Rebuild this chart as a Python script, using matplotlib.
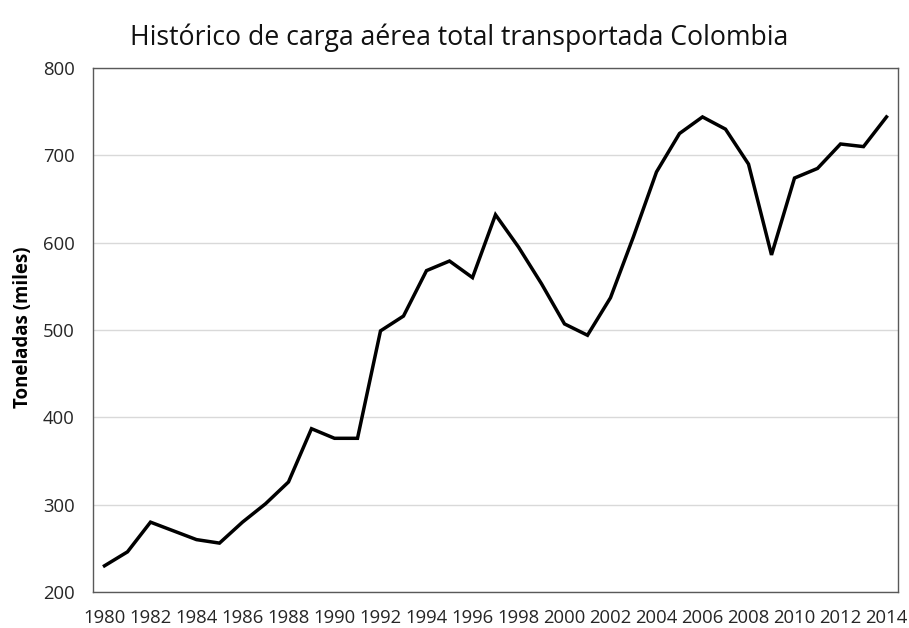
import numpy as np
import matplotlib
matplotlib.use("Agg")
import matplotlib.pyplot as plt

years = list(range(1980, 2015))
carga = [230, 246, 280, 270, 260, 256, 280, 301, 326, 387,
         376, 376, 499, 516, 568, 579, 560, 632, 595, 553,
         507, 494, 537, 607, 681, 725, 744, 730, 690, 586,
         674, 685, 713, 710, 744]
tick_years = years[::2]

plt.rcParams["font.family"] = ["Open Sans", "DejaVu Sans"]

fig = plt.figure(figsize=(9.09, 6.28), dpi=100)
ax = fig.add_axes([0.1023, 0.0573, 0.8856, 0.8344])

x = np.arange(len(years))
ax.plot(x, carga, color="black", lw=2.5, solid_joinstyle="miter")

ax.set_xlim(-0.5, len(years) - 0.5)
ax.set_ylim(200, 800)
ax.set_yticks(range(200, 801, 100))
ax.set_xticks(x[::2])
ax.set_xticklabels([str(y) for y in tick_years])
ax.tick_params(axis="both", length=0, labelsize=13.3, colors="#262626")
ax.tick_params(axis="x", pad=12)
ax.tick_params(axis="y", pad=13)

ax.grid(axis="y", color="#d9d9d9", lw=1)
ax.set_axisbelow(True)
for s in ax.spines.values():
    s.set_color("#595959")
    s.set_linewidth(1)

ax.set_ylabel("Toneladas (miles)", fontsize=13.4, fontweight="bold")
ax.yaxis.set_label_coords(-0.075, 0.505)
fig.text(0.505, 0.9395, "Histórico de carga aérea total transportada Colombia",
         ha="center", va="center", fontsize=19.2, color="#111111")

fig.savefig("out.png", dpi=100)
